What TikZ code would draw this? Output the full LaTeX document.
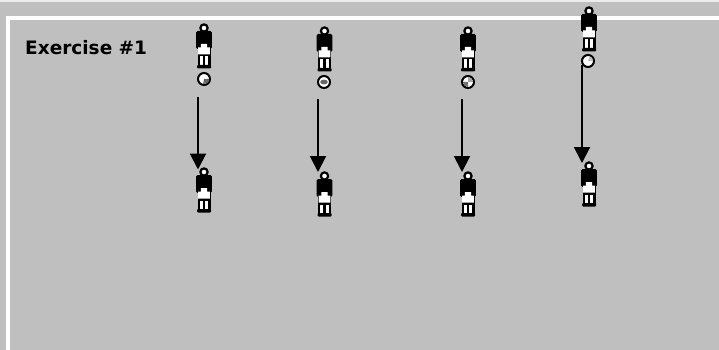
\documentclass[tikz,border=0pt]{standalone}
\usepackage{fontspec}
\setmainfont{DejaVu Sans}
\usetikzlibrary{arrows.meta}
\definecolor{bg}{HTML}{BFBFBF}
\tikzset{
  x=1pt,y=-1pt,
  figure/.pic={
    \fill[black,rounded corners=1.5pt] (-7.8,3) rectangle (7.8,21);
    \fill[black] (-6.5,18) rectangle (6.5,38);
    \fill[white] (-3.2,16) -- (3.2,16) -- (3.2,19.5) -- (5.8,19.5) -- (5.8,26.5) -- (-5.8,26.5) -- (-5.8,19.5) -- (-3.2,19.5) -- cycle;
    \fill[white] (-4.4,28.5) rectangle (-1.5,37);
    \fill[white] (1.2,28.5) rectangle (4.4,37);
    \fill[black,rounded corners=1pt] (-7,37) rectangle (7,40.5);
    \draw[black,fill=white,line width=2.2pt] (0,0) circle (3.6);
  },
  ballring/.style={draw=black,line width=2pt,fill=white,circle,minimum size=12pt,inner sep=0pt},
  move/.style={draw=black,line width=2pt,-{Triangle[length=16pt,width=16pt]}},
  title/.style={font=\fontsize{18.5}{20}\bfseries\selectfont,anchor=west,inner sep=0pt}
}
\begin{document}
\begin{tikzpicture}
\useasboundingbox (0,0) rectangle (719,350);
\fill[bg] (0,0) rectangle (719,350);
\fill[white!70!bg] (0,0) rectangle (719,2);
\fill[white] (6,16.5) rectangle (719,20.5);
\fill[white] (6,16.5) rectangle (10,350);
\node[title] (t) at (25,48) {Exercise \#1};
% figures
\pic at (204,28) {figure};
\pic at (204,172) {figure};
\pic at (324.5,31) {figure};
\pic at (324.5,176) {figure};
\pic at (468,31) {figure};
\pic at (468,176) {figure};
\pic at (589,11) {figure};
\pic at (589,166) {figure};
% balls
\node[ballring] (b1) at (204,79) {};
\fill[black!60] (b1.center) -- ++(5,0) arc (0:100:5) -- cycle;
\node[ballring] (b2) at (324,82) {};
\fill[black!60] (324,82) ellipse (3.8 and 2.4);
\node[ballring] (b3) at (468,82) {};
\fill[black!55] (b3.center) -- ++(-5,0) arc (180:90:5) -- cycle;
\fill[black!35] (b3.center) -- ++(5,0) arc (0:-90:5) -- cycle;
\node[ballring] (b4) at (588,61) {};
\fill[black!25] (b4.center) -- ++(5,0) arc (0:-70:5) -- cycle;
% arrows
\coordinate (s1) at (198,97);
\coordinate (e1) at (198,169.5);
\coordinate (s2) at (318,99);
\coordinate (e2) at (318,172);
\coordinate (s3) at (462,99);
\coordinate (e3) at (462,172);
\coordinate (s4) at (582,65);
\coordinate (e4) at (582,163);
\draw[move] (s1) -- (e1);
\draw[move] (s2) -- (e2);
\draw[move] (s3) -- (e3);
\draw[move] (s4) -- (e4);
\end{tikzpicture}
\end{document}
